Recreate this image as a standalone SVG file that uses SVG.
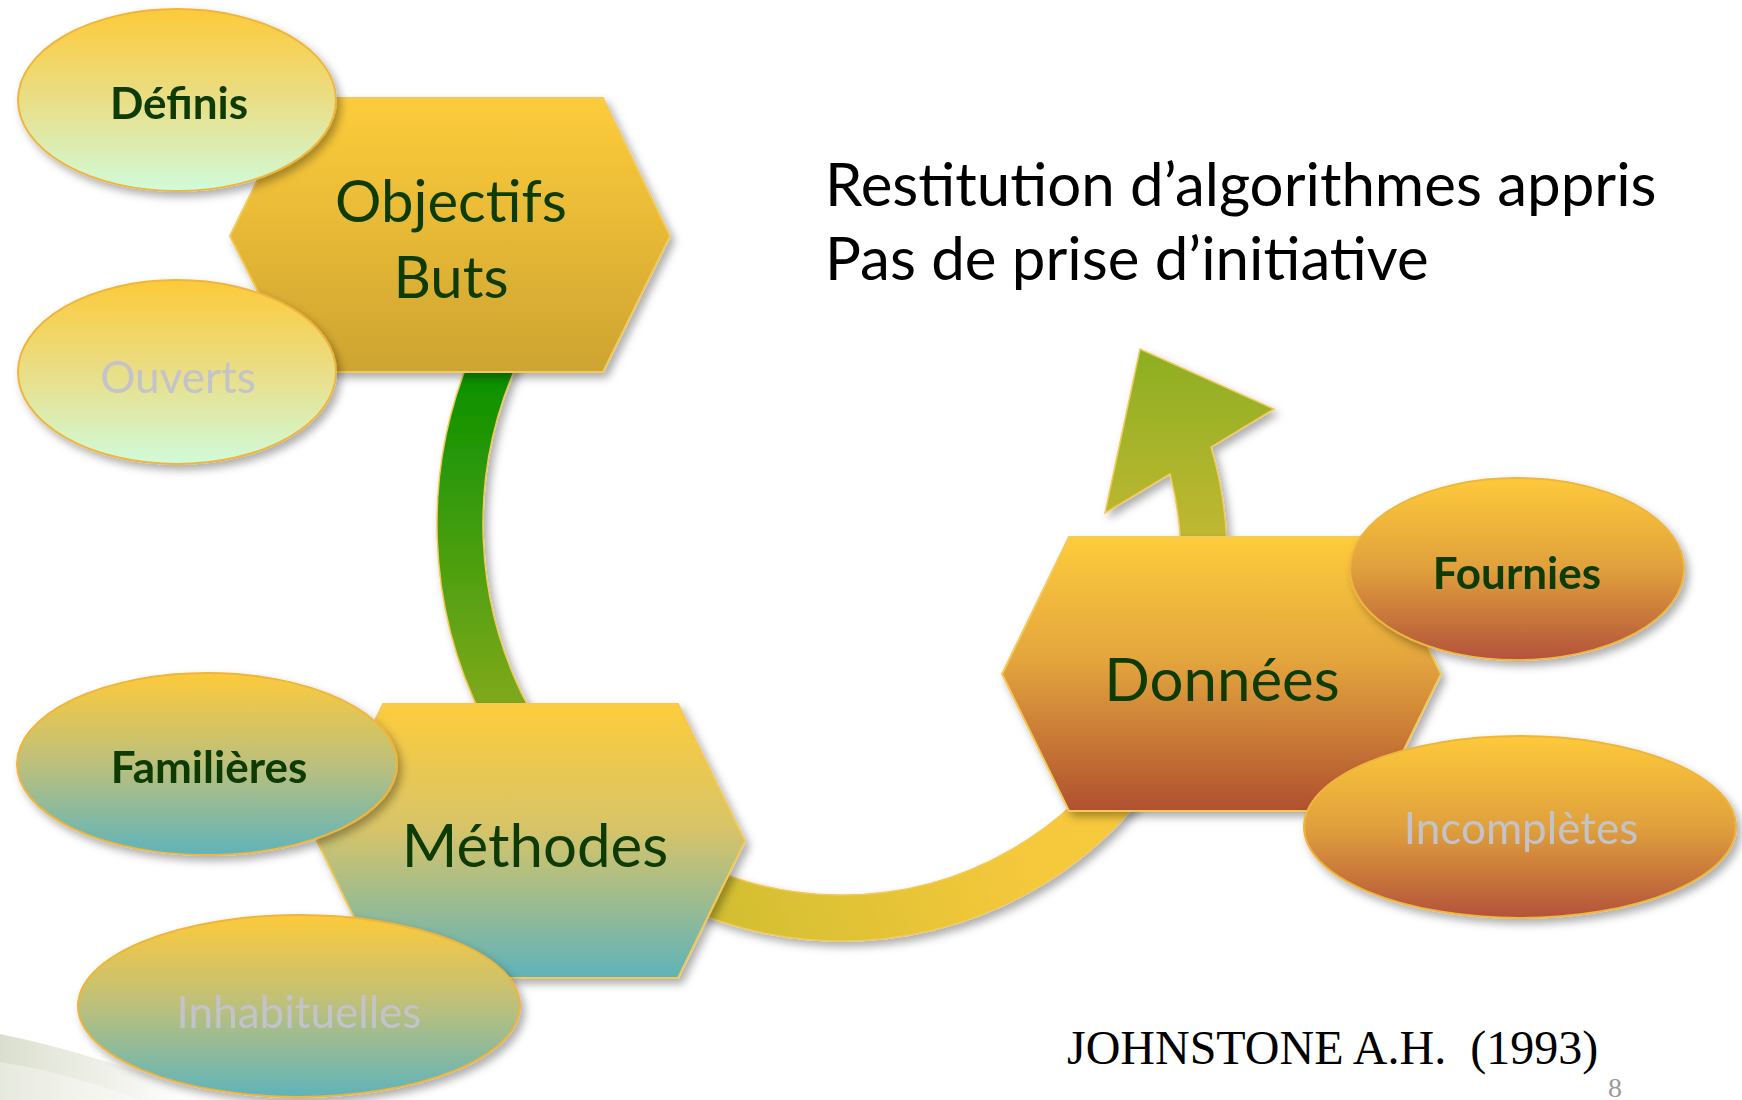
<svg xmlns="http://www.w3.org/2000/svg" width="1742" height="1100" viewBox="0 0 1742 1100">
<defs>
  <style>
    .hex { stroke: #f2c95a; stroke-width: 2; }
    .ell { stroke: #efb53e; stroke-width: 2; }
    .big { font-family: Lato, "Noto Sans", sans-serif; font-size: 60px; fill: #0b3a06; text-anchor: middle; }
    .lbl { font-family: Lato, "Noto Sans", sans-serif; font-size: 44px; text-anchor: middle; }
    .bold { font-weight: bold; fill: #0b3a06; }
    .pale { fill: #c3c3c9; }
    .title { font-family: Lato, "Noto Sans", sans-serif; font-size: 60px; fill: #000; }
  </style>
  <filter id="sh" x="-10%" y="-10%" width="125%" height="130%">
    <feDropShadow dx="4" dy="5" stdDeviation="4" flood-color="#000" flood-opacity="0.32"/>
  </filter>
  <linearGradient id="gGold" x1="0" y1="0" x2="0" y2="1">
    <stop offset="0" stop-color="#fdcc3b"/><stop offset="1" stop-color="#cea431"/>
  </linearGradient>
  <linearGradient id="gTeal" x1="0" y1="0" x2="0" y2="1">
    <stop offset="0" stop-color="#fdcc3b"/><stop offset="0.45" stop-color="#d8c468"/><stop offset="1" stop-color="#5fb3b9"/>
  </linearGradient>
  <linearGradient id="gRust" x1="0" y1="0" x2="0" y2="1">
    <stop offset="0" stop-color="#fdcc3b"/><stop offset="0.45" stop-color="#e3a53d"/><stop offset="1" stop-color="#b0502f"/>
  </linearGradient>
  <linearGradient id="eMint" x1="0" y1="0" x2="0" y2="1">
    <stop offset="0" stop-color="#fdca3a"/><stop offset="0.5" stop-color="#e9de86"/><stop offset="1" stop-color="#d0fbda"/>
  </linearGradient>
  <linearGradient id="eTeal" x1="0" y1="0" x2="0" y2="1">
    <stop offset="0" stop-color="#fdca3a"/><stop offset="0.5" stop-color="#bcc07c"/><stop offset="1" stop-color="#5fb4bb"/>
  </linearGradient>
  <linearGradient id="eRust" x1="0" y1="0" x2="0" y2="1">
    <stop offset="0" stop-color="#fdca3a"/><stop offset="0.5" stop-color="#e0a03c"/><stop offset="1" stop-color="#b3523a"/>
  </linearGradient>
  <linearGradient id="bGreen" gradientUnits="userSpaceOnUse" x1="0" y1="360" x2="0" y2="710">
    <stop offset="0" stop-color="#069000"/><stop offset="0.45" stop-color="#3c9c0c"/><stop offset="1" stop-color="#82a91c"/>
  </linearGradient>
  <linearGradient id="bYellow" gradientUnits="userSpaceOnUse" x1="650" y1="900" x2="1230" y2="700">
    <stop offset="0" stop-color="#cbbd30"/><stop offset="0.6" stop-color="#f6c83b"/><stop offset="1" stop-color="#f8ca3c"/>
  </linearGradient>
  <linearGradient id="bArrow" gradientUnits="userSpaceOnUse" x1="0" y1="350" x2="0" y2="560">
    <stop offset="0" stop-color="#8caf22"/><stop offset="1" stop-color="#c7b933"/>
  </linearGradient>
  <linearGradient id="swoosh" x1="0" y1="0" x2="1" y2="0">
    <stop offset="0" stop-color="#d3d8c4" stop-opacity="0.85"/><stop offset="0.6" stop-color="#e6e9dc" stop-opacity="0.5"/><stop offset="1" stop-color="#ffffff" stop-opacity="0"/>
  </linearGradient>
</defs>

<rect width="1742" height="1100" fill="#ffffff"/>
<path d="M0,1034 C60,1046 140,1070 215,1100 L0,1100 Z" fill="url(#swoosh)"/>
<path d="M0,1062 C50,1070 100,1084 140,1100 L0,1100 Z" fill="#ffffff" opacity="0.35"/>

<g id="connectors" filter="url(#sh)">
  <path id="arc-green" d="M471,355 A437,437 0 0 0 483.4,720 L535.7,720 A391,391 0 0 1 521.4,355 Z" fill="url(#bGreen)" stroke="#f2c95a" stroke-width="1.5"/>
  <path id="arc-yellow" d="M649.5,889.4 A385,385 0 0 0 1227,556 L1181,556 A339,339 0 0 1 672.5,849.6 Z" fill="url(#bYellow)" stroke="#f2c95a" stroke-width="1.5"/>
  <path id="arrow-up" d="M1181,580 L1181,556 A339,339 0 0 0 1170,474 L1105,513 L1140,349 L1274,409 L1211,447 A385,385 0 0 1 1227,556 L1227,580 Z" fill="url(#bArrow)" stroke="#f2c95a" stroke-width="1.5"/>
</g>

<g id="objectifs" filter="url(#sh)">
  <polygon class="hex" points="230,236 298,98 603,98 670,236 603,372 298,372" fill="url(#gGold)"/>
  <text class="big" x="451" y="222" style="font-size:58px">Objectifs</text>
  <text class="big" x="451" y="298" style="font-size:58px">Buts</text>
</g>
<g id="definis" filter="url(#sh)">
  <ellipse class="ell" cx="177" cy="100" rx="159" ry="91" fill="url(#eMint)"/>
  <text class="lbl bold" x="179" y="119">Définis</text>
</g>
<g id="ouverts" filter="url(#sh)">
  <ellipse class="ell" cx="177" cy="372" rx="159" ry="92" fill="url(#eMint)"/>
  <text class="lbl pale" x="178" y="393">Ouverts</text>
</g>

<g id="methodes" filter="url(#sh)">
  <polygon class="hex" points="317,841 383,704 678,704 745,841 678,978 383,978" fill="url(#gTeal)"/>
  <text class="big" x="535" y="867">Méthodes</text>
</g>
<g id="familieres" filter="url(#sh)">
  <ellipse class="ell" cx="207" cy="764" rx="190" ry="91" fill="url(#eTeal)"/>
  <text class="lbl bold" x="209" y="783">Familières</text>
</g>
<g id="inhabituelles" filter="url(#sh)">
  <ellipse class="ell" cx="299" cy="1006" rx="221" ry="91" fill="url(#eTeal)"/>
  <text class="lbl pale" x="299" y="1028">Inhabituelles</text>
</g>

<g id="donnees" filter="url(#sh)">
  <polygon class="hex" points="1002,674 1069,537 1374,537 1441,674 1374,811 1069,811" fill="url(#gRust)"/>
  <text class="big" x="1222" y="701">Données</text>
</g>
<g id="fournies" filter="url(#sh)">
  <ellipse class="ell" cx="1517" cy="569" rx="167" ry="91" fill="url(#eRust)"/>
  <text class="lbl bold" x="1517" y="589">Fournies</text>
</g>
<g id="incompletes" filter="url(#sh)">
  <ellipse class="ell" cx="1520" cy="827" rx="216" ry="91" fill="url(#eRust)"/>
  <text class="lbl pale" x="1521" y="844">Incomplètes</text>
</g>

<g id="note">
  <text class="title" x="825" y="206">Restitution d’algorithmes appris</text>
  <text class="title" x="825" y="280">Pas de prise d’initiative</text>
</g>
<text x="1067" y="1064" font-family="'Liberation Serif', 'Times New Roman', serif" font-size="48" fill="#000" xml:space="preserve">JOHNSTONE A.H.  (1993)</text>
<text x="1608" y="1097" font-family="'Liberation Serif', serif" font-size="28" fill="#9a9a9a">8</text>
</svg>
